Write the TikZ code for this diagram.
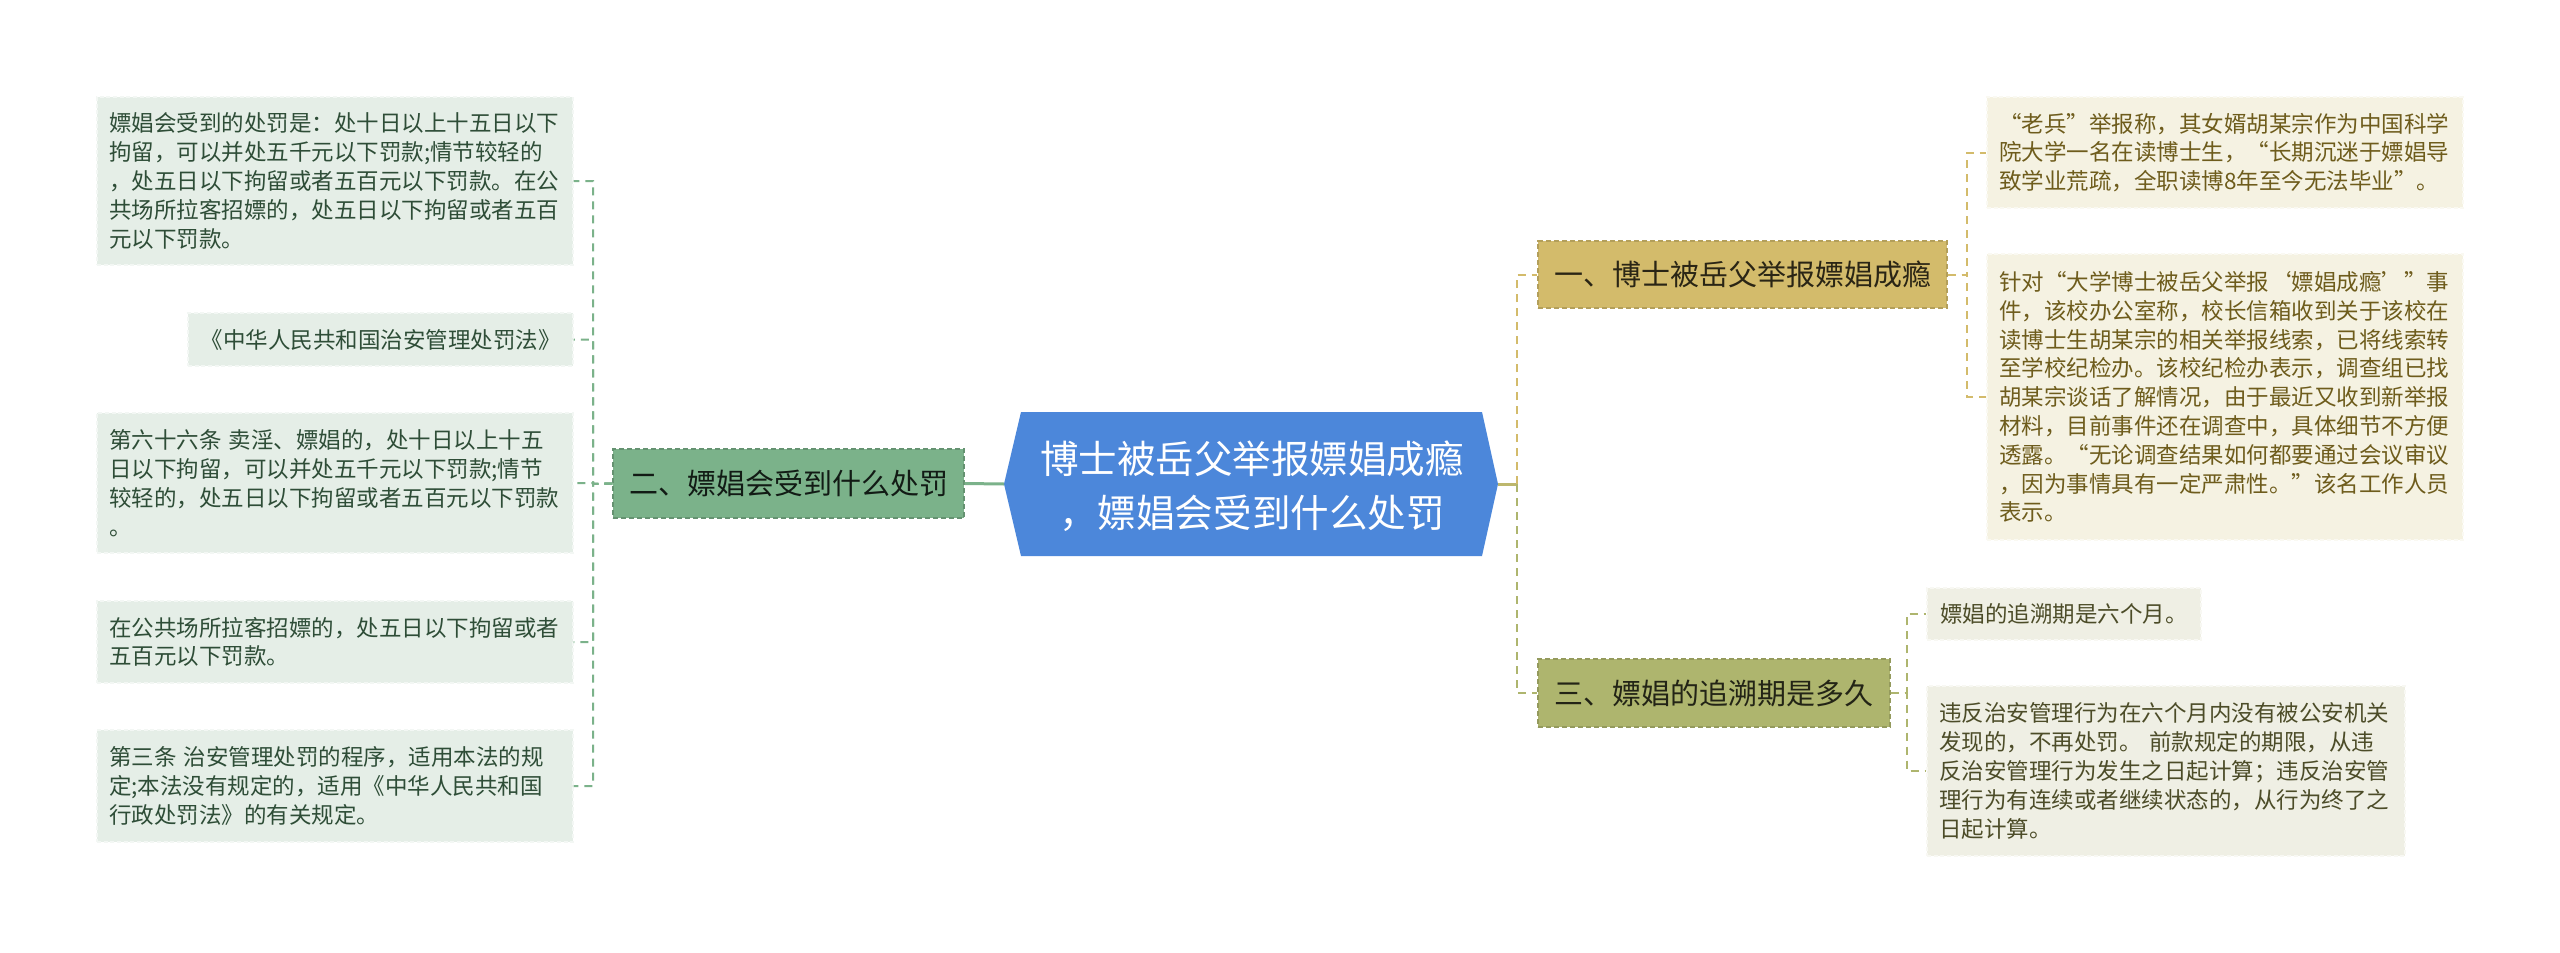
\documentclass[tikz,border=0pt]{standalone}
\usepackage{fontspec}
\setmainfont{Noto Sans CJK SC}
\definecolor{cblue}{HTML}{4C87DA}
\definecolor{bgreen}{HTML}{7BB28A}
\definecolor{bgold}{HTML}{D3BB6B}
\definecolor{bolive}{HTML}{AEB56E}
\definecolor{lgfill}{HTML}{E5EEE7}
\definecolor{lgtext}{HTML}{2E4D37}
\definecolor{rgfill}{HTML}{F5F2E2}
\definecolor{rgtext}{HTML}{6E5C1C}
\definecolor{rofill}{HTML}{EFEFE4}
\definecolor{rotext}{HTML}{4C4C28}
\newcommand\leaffont{\fontsize{16.875pt}{21.6pt}\selectfont}
\newcommand\branchfont{\fontsize{21.75pt}{26pt}\selectfont}
\newcommand\centerfont{\fontsize{28.9pt}{40.5pt}\selectfont}
\begin{document}
\begin{tikzpicture}[x=0.75pt,y=-0.75pt,
  leafbase/.style={rectangle, inner xsep=9pt, inner ysep=0pt, font=\leaffont, dashed, dash pattern=on 3pt off 2pt, line width=0.8pt},
  lleaf/.style={leafbase, fill=lgfill, draw=white!55!lgfill, text=lgtext},
  rgleaf/.style={leafbase, fill=rgfill, draw=white!55!rgfill, text=rgtext},
  roleaf/.style={leafbase, fill=rofill, draw=white!55!rofill, text=rotext},
  branch/.style={rectangle, inner sep=0pt, font=\branchfont, dashed, dash pattern=on 4pt off 2pt, line width=0.9pt},
  conn/.style={line width=1.5pt, dash pattern=on 6pt off 4.5pt},
  trunk/.style={line width=2.25pt}]
\fill[white] (0,0) rectangle (2560,953);
\useasboundingbox (0,0) rectangle (2560,953);

% central node
\fill[cblue] (1021,412) -- (1482,412) -- (1498,484) -- (1482,556) -- (1021,556) -- (1004,484) -- cycle;
\coordinate (cL) at (1004,484);
\coordinate (cR) at (1498,484);
\node[font=\centerfont, text=white, align=center, inner sep=0pt] (c) at (1252,486) {博士被岳父举报嫖娼成瘾\\，嫖娼会受到什么处罚};

% branches
\node[branch, fill=bgreen, draw=bgreen!82!black, text=black!85!bgreen, minimum width=263.25pt, minimum height=51.75pt] (b2) at (788.5,483.5) {二、嫖娼会受到什么处罚};
\node[branch, fill=bgold, draw=bgold!85!black, text=black!80!bgold, minimum width=306.75pt, minimum height=50.25pt] (b1) at (1742.5,274.5) {一、博士被岳父举报嫖娼成瘾};
\node[branch, fill=bolive, draw=bolive!85!black, text=black!80!bolive, minimum width=264pt, minimum height=51pt] (b3) at (1714,693) {三、嫖娼的追溯期是多久};

% left leaves
\node[lleaf, minimum width=357pt, minimum height=126pt, text width=339pt, align=left] (L1) at (335,181) {嫖娼会受到的处罚是：处十日以上十五日以下\\拘留，可以并处五千元以下罚款;情节较轻的\\，处五日以下拘留或者五百元以下罚款。在公\\共场所拉客招嫖的，处五日以下拘留或者五百\\元以下罚款。};
\node[lleaf, minimum width=288.75pt, minimum height=39.75pt, align=center] (L2) at (380.5,339.5) {《中华人民共和国治安管理处罚法》};
\node[lleaf, minimum width=357pt, minimum height=105pt, text width=339pt, align=left] (L3) at (335,483) {第六十六条~卖淫、嫖娼的，处十日以上十五\\日以下拘留，可以并处五千元以下罚款;情节\\较轻的，处五日以下拘留或者五百元以下罚款\\。};
\node[lleaf, minimum width=357pt, minimum height=61.5pt, text width=339pt, align=left] (L4) at (335,642) {在公共场所拉客招嫖的，处五日以下拘留或者\\五百元以下罚款。};
\node[lleaf, minimum width=357pt, minimum height=84pt, text width=339pt, align=left] (L5) at (335,786) {第三条~治安管理处罚的程序，适用本法的规\\定;本法没有规定的，适用《中华人民共和国\\行政处罚法》的有关规定。};

% right leaves
\node[rgleaf, minimum width=357pt, minimum height=83.25pt, text width=339pt, align=left] (R1) at (2225,152.5) {“老兵”举报称，其女婿胡某宗作为中国科学\\院大学一名在读博士生，“长期沉迷于嫖娼导\\致学业荒疏，全职读博8年至今无法毕业”。};
\node[rgleaf, minimum width=357pt, minimum height=214.5pt, text width=339pt, align=left] (R2) at (2225,397) {针对“大学博士被岳父举报‘嫖娼成瘾’”事\\件，该校办公室称，校长信箱收到关于该校在\\读博士生胡某宗的相关举报线索，已将线索转\\至学校纪检办。该校纪检办表示，调查组已找\\胡某宗谈话了解情况，由于最近又收到新举报\\材料，目前事件还在调查中，具体细节不方便\\透露。“无论调查结果如何都要通过会议审议\\，因为事情具有一定严肃性。”该名工作人员\\表示。};
\node[roleaf, minimum width=205.5pt, minimum height=39pt, align=center] (R3) at (2064,614) {嫖娼的追溯期是六个月。};
\node[roleaf, minimum width=358.5pt, minimum height=127.5pt, text width=340.5pt, align=left] (R4) at (2166,771) {违反治安管理行为在六个月内没有被公安机关\\发现的，不再处罚。~前款规定的期限，从违\\反治安管理行为发生之日起计算；违反治安管\\理行为有连续或者继续状态的，从行为终了之\\日起计算。};

% junction coordinates
\coordinate (lj) at (593,484);
\coordinate (rj) at (1517,484);
\coordinate (r1j) at (1967,274.5);
\coordinate (r3j) at (1907,693);

% connectors
\draw[trunk, bgreen] (cL) -- (b2.east);
\draw[trunk, bolive!60!bgold] (cR) -- (rj);
\draw[conn, bgold] (rj) |- (b1.west);
\draw[conn, bolive] (rj) |- (b3.west);

\foreach \n in {L1,L2,L3,L4,L5}
  \draw[conn, bgreen] (b2.west) -- (lj) |- (\n.east);
\foreach \n in {R1,R2}
  \draw[conn, bgold] (b1.east) -- (r1j) |- (\n.west);
\foreach \n in {R3,R4}
  \draw[conn, bolive] (b3.east) -- (r3j) |- (\n.west);
\end{tikzpicture}
\end{document}
